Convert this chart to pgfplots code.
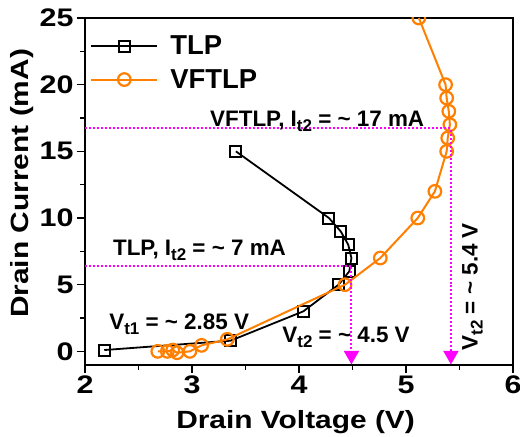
\documentclass[border=0pt]{standalone}
\usepackage{pgfplots}
\pgfplotsset{compat=1.18}
\usepackage{fontspec}
\setmainfont{Liberation Sans}
\newfontfamily\widefont{Liberation Sans}[FakeStretch=1.2]
\definecolor{vforange}{RGB}{255,127,0}
\definecolor{mag}{RGB}{255,0,255}
\newcommand\sub[1]{\raisebox{-5bp}{\fontsize{17}{17}\selectfont #1}}
\begin{document}
\begin{tikzpicture}
\path[use as bounding box] (-85bp,-72.3bp) rectangle (435bp,364.7bp);
\begin{axis}[
  at={(0,0)}, anchor=south west,
  scale only axis, width=428bp, height=346.7bp,
  xmin=2, xmax=6, ymin=-1, ymax=25,
  xtick={2,3,4,5,6}, ytick={0,5,10,15,20,25},
  minor xtick={2.5,3.5,4.5,5.5}, minor ytick={2.5,7.5,12.5,17.5,22.5},
  tick pos=left, tick align=outside,
  major tick length=8bp, minor tick length=5bp,
  tick style={black, line width=1.6bp},
  axis line style={line width=2bp},
  /pgf/number format/assume math mode=true,
  ticklabel style={font=\widefont\bfseries\fontsize{25.5}{25.5}\selectfont},
  xlabel={Drain Voltage (V)},
  ylabel={Drain Current (mA)},
  label style={font=\widefont\bfseries\fontsize{25}{25}\selectfont},
  xlabel style={at={(axis description cs:0.492,-0.1826)}, anchor=base},
  ylabel style={at={(axis description cs:-0.133,0.523)}, anchor=base, rotate=0},
  clip mode=individual, clip marker paths=true,
  legend image code/.code={\draw[mark repeat=2,mark phase=2,#1] plot coordinates {(0bp,0bp) (33bp,0bp) (66bp,0bp)};},
  legend style={at={(axis description cs:0.005,0.96)}, anchor=north west,
    draw=none, fill=none, font=\bfseries\fontsize{27.5}{27.5}\selectfont,
    row sep=9bp, /tikz/every odd column/.append style={column sep=10bp}},
  legend cell align=left,
]
\addplot[black, line width=1.8bp, mark=square, mark size=5.5bp, mark options={fill=white, line width=2bp}]
coordinates {(2.18,0.1) (3.36,0.8) (4.04,3.0) (4.37,5.0) (4.47,6.0) (4.49,7.0) (4.46,8.0) (4.39,9.0) (4.28,10.0) (3.41,15.0)};
\addlegendentry{TLP}
\addplot[vforange, line width=2bp, mark=o, mark size=6.3bp, mark options={fill=white, line width=2.2bp}]
coordinates {(2.68,0) (2.77,0) (2.82,0.1) (2.86,-0.1) (2.98,0) (3.09,0.45) (3.33,0.9) (4.43,5.0) (4.76,7.0) (5.11,10.0) (5.27,12.0) (5.38,15) (5.39,16) (5.41,17) (5.40,18) (5.38,19) (5.37,20) (5.12,25.0)};
\addlegendentry{VFTLP}
\addplot[mag, line width=2bp, dotted, forget plot] coordinates {(2,6.4) (4.49,6.4) (4.49,-0.4)};
\addplot[mag, line width=2bp, dotted, forget plot] coordinates {(2,16.72) (5.42,16.72) (5.42,-0.4)};
\addplot[mag, only marks, mark=triangle*, mark size=8.5bp, mark options={rotate=180, fill=mag, draw=mag}, forget plot] coordinates {(4.49,-0.3) (5.42,-0.3)};
\node[font=\bfseries\fontsize{22.5}{22.5}\selectfont, anchor=base] at (axis cs:4.17,16.85) {VFTLP, I\sub{t2} = \textasciitilde{} 17 mA};
\node[font=\bfseries\fontsize{22.5}{22.5}\selectfont, anchor=base] at (axis cs:3.07,7.2) {TLP, I\sub{t2} = \textasciitilde{} 7 mA};
\node[font=\bfseries\fontsize{22.5}{22.5}\selectfont, anchor=base] at (axis cs:2.88,1.65) {V\sub{t1} = \textasciitilde{} 2.85 V};
\node[font=\bfseries\fontsize{22.5}{22.5}\selectfont, anchor=base] at (axis cs:4.44,0.68) {V\sub{t2} = \textasciitilde{} 4.5 V};
\node[font=\bfseries\fontsize{22.5}{22.5}\selectfont, anchor=base, rotate=90] at (axis cs:5.67,4.85) {V\sub{t2} = \textasciitilde{} 5.4 V};
\end{axis}
\end{tikzpicture}
\end{document}
